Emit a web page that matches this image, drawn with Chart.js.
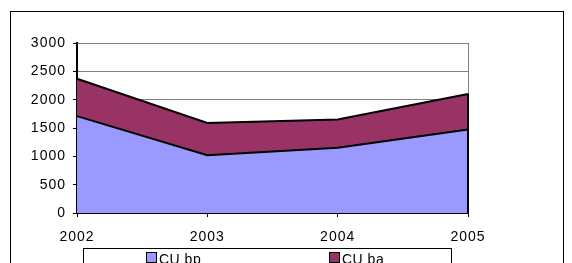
<!DOCTYPE html>
<html>
<head>
<meta charset="utf-8">
<script src="https://cdn.jsdelivr.net/npm/chart.js@4.4.1/dist/chart.umd.min.js"></script>
<style>
html,body{margin:0;padding:0;background:#fff;overflow:hidden;}
#wrap{width:572px;height:263px;position:relative;}
</style>
</head>
<body>
<div id="wrap"><canvas id="c" width="572" height="263"></canvas></div>
<script>
const categories = ['2002', '2003', '2004', '2005'];
const cuBp = [1710, 1020, 1150, 1475];
const cuBa = [660, 570, 500, 625];
const yTicks = [0, 500, 1000, 1500, 2000, 2500, 3000];
const seriesNames = ['CU bp', 'CU ba'];
const seriesColors = ['#9999FF', '#993366'];

const FONT = {family: '"Liberation Sans", Arial, sans-serif', size: 14};

const framePlugin = {
  id: 'frame',
  beforeInit(chart) {
    chart.ctx.letterSpacing = '1px';
  },
  beforeDraw(chart) {
    const ctx = chart.ctx;
    ctx.letterSpacing = '1px';
    ctx.save();
    ctx.fillStyle = '#fff';
    ctx.fillRect(0, 0, chart.width, chart.height);
    ctx.strokeStyle = '#000';
    ctx.lineWidth = 1;
    ctx.strokeRect(10.5, 11.5, 553, 300);
    ctx.restore();
  },
  afterDatasetsDraw(chart) {
    const ctx = chart.ctx;
    const last = chart.data.labels.length - 1;
    const top = chart.getDatasetMeta(chart.data.datasets.length - 1).data[last];
    const yBase = chart.scales.y.getPixelForValue(0);
    ctx.save();
    ctx.strokeStyle = '#000';
    ctx.lineWidth = 2;
    ctx.beginPath();
    ctx.moveTo(top.x, yBase);
    ctx.lineTo(top.x, top.y);
    ctx.stroke();
    ctx.restore();
  },
  afterDraw(chart) {
    const ctx = chart.ctx;
    ctx.save();
    ctx.strokeStyle = '#000';
    ctx.lineWidth = 1;
    ctx.strokeRect(83.5, 248.5, 368, 40);
    ctx.font = '14px "Liberation Sans", Arial, sans-serif';
    ctx.letterSpacing = '0.5px';
    ctx.textBaseline = 'alphabetic';
    const xs = [146, 329];
    chart.data.datasets.forEach((ds, i) => {
      ctx.fillStyle = ds.backgroundColor;
      ctx.fillRect(xs[i] + 0.5, 252.5, 10, 10);
      ctx.strokeRect(xs[i] + 0.5, 252.5, 10, 10);
      ctx.fillStyle = '#000';
      ctx.fillText(ds.label, xs[i] + 13, 264);
    });
    ctx.restore();
  }
};

new Chart(document.getElementById('c'), {
  type: 'line',
  data: {
    labels: categories,
    datasets: [
      {label: seriesNames[0], data: cuBp, backgroundColor: seriesColors[0], borderColor: '#000', borderWidth: 2, fill: 'origin', pointRadius: 0, tension: 0},
      {label: seriesNames[1], data: cuBa, backgroundColor: seriesColors[1], borderColor: '#000', borderWidth: 2, fill: '-1', pointRadius: 0, tension: 0}
    ]
  },
  options: {
    responsive: false,
    animation: false,
    devicePixelRatio: 1,
    layout: {padding: {left: 10, top: 43, right: 104, bottom: 0}},
    plugins: {legend: {display: false}, tooltip: {enabled: false}},
    scales: {
      x: {
        offset: false,
        grid: {
          color: (c) => c.index === categories.length - 1 ? '#808080' : 'rgba(0,0,0,0)',
          tickColor: '#000',
          tickLength: 4,
          drawOnChartArea: true
        },
        border: {color: '#000', width: 2},
        ticks: {color: '#000', font: FONT, padding: 12, maxRotation: 0, autoSkip: false},
        afterFit: (s) => { s.height = 50; }
      },
      y: {
        stacked: true,
        min: 0, max: 3000,
        afterBuildTicks: (s) => { s.ticks = yTicks.map(v => ({value: v})); },
        grid: {color: '#808080', tickColor: '#000', tickLength: 4},
        border: {color: '#000', width: 2},
        ticks: {color: '#000', font: FONT, padding: 7, callback: (v) => String(v)},
        afterFit: (s) => { s.width = 67; }
      }
    }
  },
  plugins: [framePlugin]
});
</script>
</body>
</html>
